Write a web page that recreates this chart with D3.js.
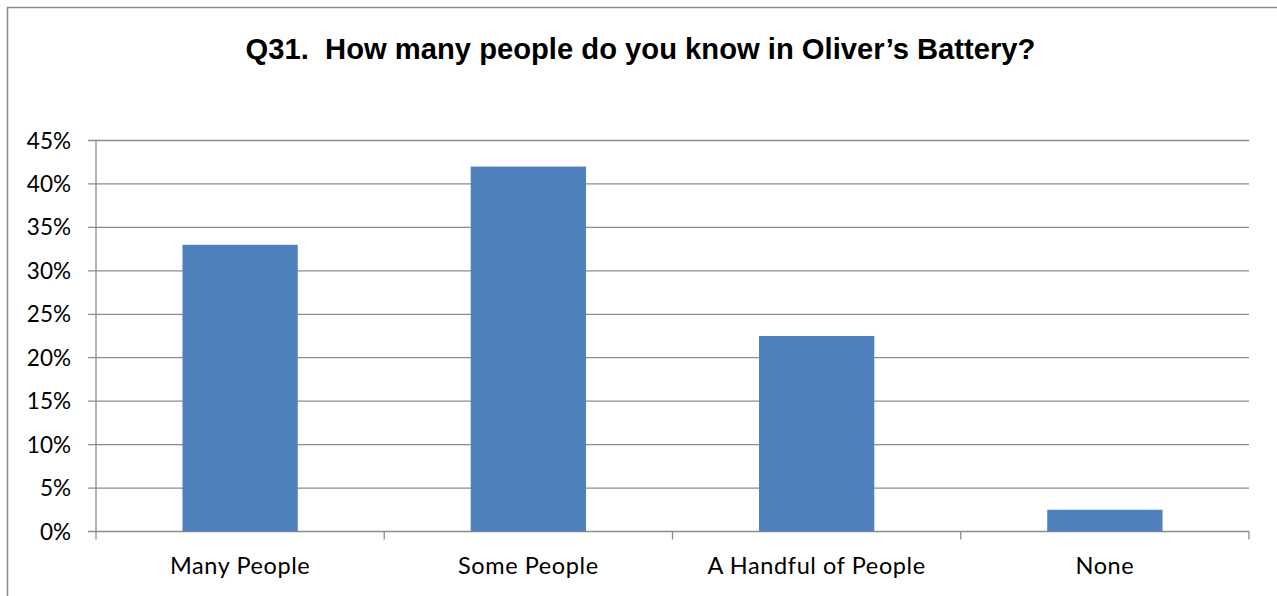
<!DOCTYPE html>
<html><head><meta charset="utf-8">
<script src="https://cdn.jsdelivr.net/npm/d3@7"></script>
<style>body{margin:0;background:#fff}svg{display:block}</style>
</head><body>
<svg id="c" width="1277" height="596"></svg>
<script>
const categories = ["Many People", "Some People", "A Handful of People", "None"];
const values = [33, 42, 22.5, 2.5];
const yTicks = [0, 5, 10, 15, 20, 25, 30, 35, 40, 45];
const title = "Q31.  How many people do you know in Oliver\u2019s Battery?";

const svg = d3.select("#c");
const m = {left: 96, right: 1249, top: 140.5, bottom: 531.5};

// outer frame
svg.append("rect").attr("x", 7.5).attr("y", 7.5).attr("width", 1300).attr("height", 700)
  .attr("fill", "none").attr("stroke", "#8c8c8c").attr("stroke-width", 1.5);

svg.append("text").attr("x", 640.5).attr("y", 59).attr("text-anchor", "middle")
  .style("white-space", "pre")
  .attr("font-family", "Liberation Sans, Arial, sans-serif").attr("font-weight", "bold")
  .attr("font-size", 29.2).attr("fill", "#000").text(title);

const x = d3.scaleBand().domain(categories).range([m.left, m.right]).paddingInner(0).paddingOuter(0);
const y = d3.scaleLinear().domain([0, 45]).range([m.bottom, m.top]);

// gridlines
svg.append("g").selectAll("line").data(yTicks).join("line")
  .attr("x1", m.left - 8).attr("x2", m.right)
  .attr("y1", d => y(d)).attr("y2", d => y(d))
  .attr("stroke", "#8c8c8c").attr("stroke-width", 1.3);

// bars
const bw = x.bandwidth() * 0.4;
svg.append("g").selectAll("rect").data(values).join("rect")
  .attr("x", (d, i) => x(categories[i]) + x.bandwidth() / 2 - bw / 2)
  .attr("width", bw)
  .attr("y", d => y(d)).attr("height", d => y(0) - y(d))
  .attr("fill", "#4f81bd");

// y axis line
svg.append("line").attr("x1", m.left).attr("x2", m.left).attr("y1", m.top).attr("y2", m.bottom + 8)
  .attr("stroke", "#8c8c8c").attr("stroke-width", 1.3);
// x axis ticks at band boundaries
const bounds = categories.map(c => x(c)).concat([m.right]);
svg.append("g").selectAll("line").data(bounds.slice(1)).join("line")
  .attr("x1", d => d).attr("x2", d => d).attr("y1", m.bottom).attr("y2", m.bottom + 8)
  .attr("stroke", "#8c8c8c").attr("stroke-width", 1.3);

// y tick labels
svg.append("g").selectAll("text").data(yTicks).join("text")
  .attr("x", 71).attr("y", d => y(d) + 8).attr("text-anchor", "end")
  .attr("font-family", "Lato, sans-serif").attr("font-size", 22.5).attr("fill", "#000")
  .text(d => d + "%");

// x labels
svg.append("g").selectAll("text").data(categories).join("text")
  .attr("x", d => x(d) + x.bandwidth() / 2).attr("y", 574).attr("text-anchor", "middle")
  .attr("font-family", "Lato, sans-serif").attr("font-size", 23.5)
  .attr("letter-spacing", 0.6).attr("fill", "#000")
  .text(d => d);
</script>
</body></html>
